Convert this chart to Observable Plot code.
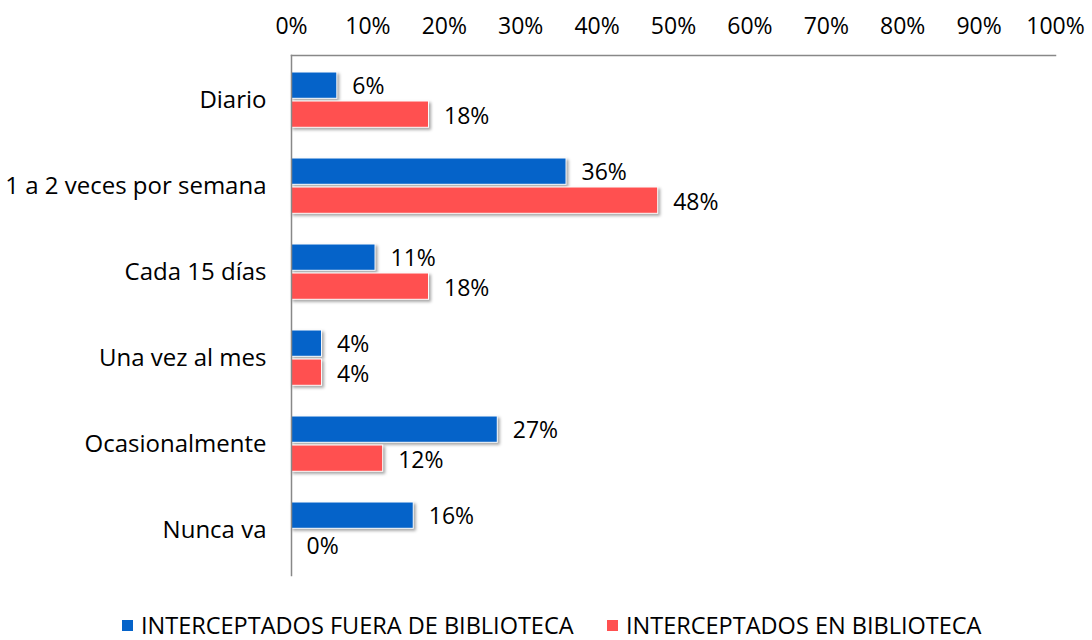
<!DOCTYPE html>
<html><head><meta charset="utf-8">
<script src="https://cdn.jsdelivr.net/npm/d3@7"></script>
<script src="https://cdn.jsdelivr.net/npm/@observablehq/plot@0.6"></script>
<style>
body{margin:0;background:#fff;font-family:"Open Sans",sans-serif;}
#legend{height:50px;font-size:23.5px;color:#000;position:relative;}
.it{display:flex;align-items:center;position:absolute;top:19px;}
.sw{width:11px;height:11px;margin-right:8px;}
</style></head><body>
<div id="chart"></div>
<div id="legend"></div>
<script>
const categories = ["Diario","1 a 2 veces por semana","Cada 15 días","Una vez al mes","Ocasionalmente","Nunca va"];
const series = ["INTERCEPTADOS FUERA DE BIBLIOTECA","INTERCEPTADOS EN BIBLIOTECA"];
const fuera = [6,36,11,4,27,16];
const enBib = [18,48,18,4,12,0];
const colors = ["#0563C9","#FF5050"];
const xTicks = [0,10,20,30,40,50,60,70,80,90,100];

const rowsA = categories.map((c,i)=>({cat:c,v:fuera[i]}));
const rowsB = categories.map((c,i)=>({cat:c,v:enBib[i]}));
const fmt = d => d + "%";
const FS = 23;

const plot = Plot.plot({
  width:1092, height:590,
  marginLeft:291, marginRight:37, marginTop:55, marginBottom:15,
  style:{fontFamily:"'Open Sans', sans-serif", fontSize:FS+"px", color:"#000", background:"#fff"},
  x:{domain:[0,100]},
  y:{domain:categories, padding:0},
  marks:[
    Plot.barX(rowsA,{x:"v", y:"cat", fill:colors[0], stroke:"#fff", strokeWidth:1, insetTop:15, insetBottom:44.7}),
    Plot.barX(rowsB,{x:"v", y:"cat", fill:colors[1], stroke:"#fff", strokeWidth:1, insetTop:44, insetBottom:15.7}),
    Plot.text(rowsA,{x:"v", y:"cat", text:d=>fmt(d.v), dx:15, dy:-13.5, textAnchor:"start", fontSize:FS, fill:"#000"}),
    Plot.text(rowsB,{x:"v", y:"cat", text:d=>fmt(d.v), dx:15, dy:16.5, textAnchor:"start", fontSize:FS, fill:"#000"}),
    Plot.axisX({anchor:"top", ticks:xTicks, tickFormat:fmt, tickSize:0, tickPadding:22, fontSize:FS, label:null}),
    Plot.axisY({anchor:"left", tickSize:0, tickPadding:25, fontSize:24, label:null}),
    Plot.frame({anchor:"top", stroke:"#888", strokeWidth:1.5}),
    Plot.frame({anchor:"left", stroke:"#888", strokeWidth:1.5})
  ]
});
d3.select(plot).selectAll("g[aria-label='bar'] rect").style("filter","drop-shadow(2px 2px 1.5px rgba(0,0,0,0.35))");
document.getElementById("chart").appendChild(plot);

const lg = document.getElementById("legend");
const lefts=[122,607];
series.forEach((s,i)=>{
  const it=document.createElement("div"); it.className="it"; it.style.left=lefts[i]+"px";
  const sw=document.createElement("div"); sw.className="sw"; sw.style.background=colors[i];
  const t=document.createElement("span"); t.textContent=s;
  it.appendChild(sw); it.appendChild(t); lg.appendChild(it);
});
</script></body></html>
